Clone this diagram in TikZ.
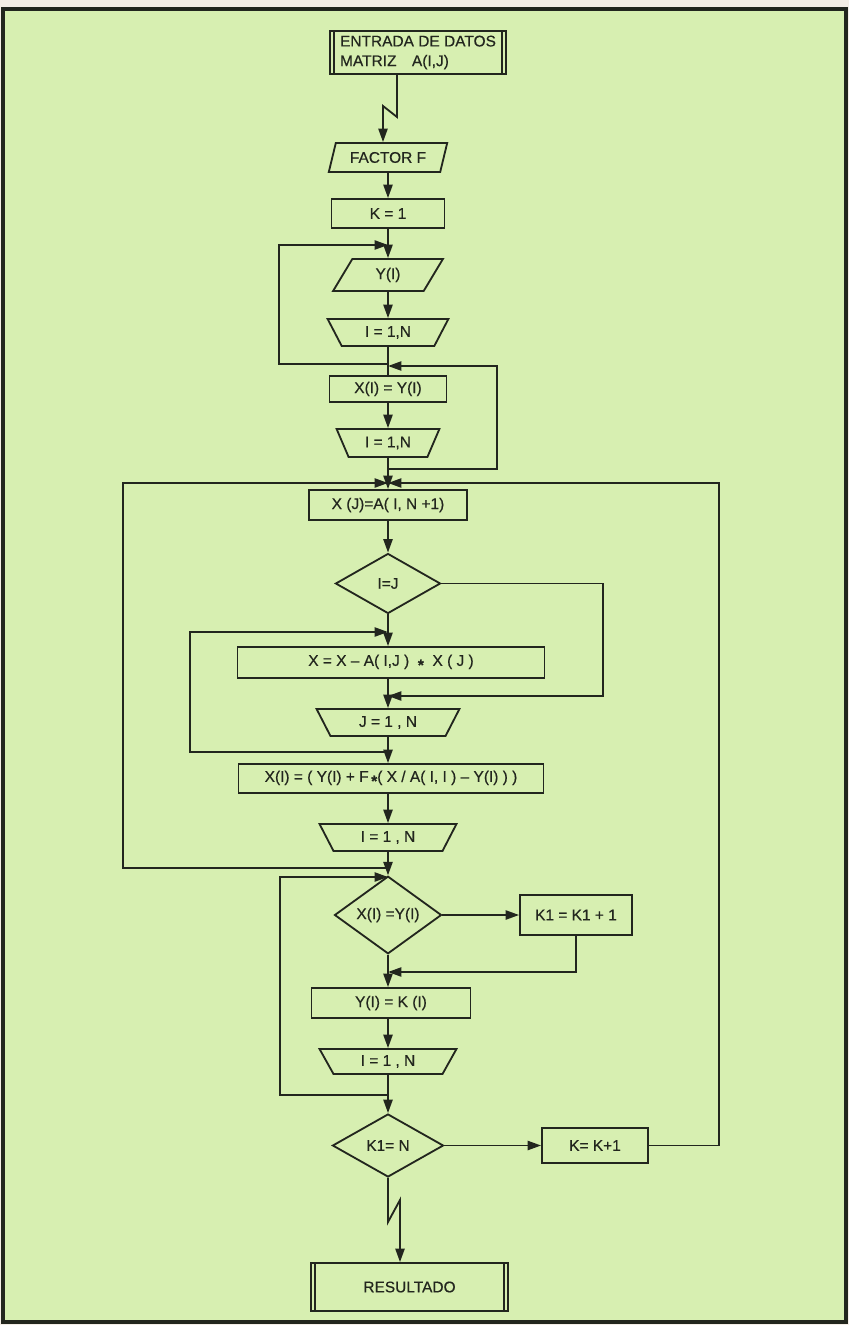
\documentclass[tikz,border=0pt]{standalone}
\usepackage{fontspec}
\setmainfont{Liberation Sans}[FakeBold=0.5]
\usetikzlibrary{shapes.geometric,arrows.meta}

\definecolor{paper}{RGB}{215,239,177}
\definecolor{margin}{RGB}{244,238,230}
\definecolor{ink}{RGB}{34,38,30}

\newcommand{\por}{\raisebox{-0.55ex}{\textbf{*}}}

\begin{document}
\begin{tikzpicture}[x=0.025cm, y=-0.025cm, line width=1.3pt, color=ink,
		font=\fontsize{11}{14}\selectfont,
		proc/.style 2 args={draw, rectangle, inner sep=0pt,
			minimum width=#1*0.025cm, minimum height=#2*0.025cm},
		predef/.style 2 args={proc={#1}{#2},
			path picture={
				\draw ([xshift=0.1cm]path picture bounding box.north west) -- ([xshift=0.1cm]path picture bounding box.south west);
				\draw ([xshift=-0.1cm]path picture bounding box.north east) -- ([xshift=-0.1cm]path picture bounding box.south east);
			}},
		inout/.style 2 args={draw, trapezium, trapezium stretches=true,
			trapezium left angle=65, trapezium right angle=115, inner sep=0pt,
			minimum width=#1*0.025cm, minimum height=#2*0.025cm},
		loopend/.style 2 args={draw, trapezium, trapezium stretches=true,
			trapezium angle=61, shape border rotate=180, inner sep=0pt,
			minimum width=#1*0.025cm, minimum height=#2*0.025cm},
		decide/.style 2 args={draw, diamond, inner sep=0pt,
			minimum width=#1*0.025cm, minimum height=#2*0.025cm},
		flow/.style={-{Triangle[length=9.5pt,width=6.5pt]}}]

	% fondo y marco
	\fill[margin] (0,0) rectangle (849,1325);
	\filldraw[fill=paper, line width=2.2pt] (3,9) rectangle (846,1322);

	% nodos
	\node[predef={176}{43}, align=left] (entrada) at (418,52.5) {ENTRADA DE DATOS\\MATRIZ\quad A(I,J)};
	\node[inout={119}{29}] (factor) at (388,157.5) {FACTOR F};
	\node[proc={113}{29}] (kuno) at (388,213.5) {K = 1};
	\node[inout={110}{32}] (yin) at (388,275) {Y(I)};
	\node[loopend={121}{27}] (lazo1) at (388,332.5) {I = 1,N};
	\node[proc={117}{26}] (xcopia) at (388,389) {X(I) = Y(I)};
	\node[loopend={103}{28}] (lazo2) at (388,443) {I = 1,N};
	\node[proc={158}{30}] (xj) at (388,505) {X (J)=A( I, N +1)};
	\node[decide={105}{60}] (cond1) at (388,583.5) {I=J};
	\node[proc={307}{31}] (resta) at (391,662.5) {X = X -- A( I,J )\ \ \por\ \ X ( J )};
	\node[loopend={143}{27}] (lazo3) at (388,722.5) {J = 1 , N};
	\node[proc={305}{29}] (nuevo) at (391,778.5) {X(I) = ( Y(I) + F\,\por( X / A( I, I ) -- Y(I) ) )};
	\node[loopend={137}{27}] (lazo4) at (388,837.5) {I = 1 , N};
	\node[decide={107}{60}] (cond2) at (388,915) {X(I) =Y(I)};
	\node[proc={112}{40}] (cuenta) at (576,915) {K1 = K1 + 1};
	\node[proc={159}{30}] (ycopia) at (391,1003) {Y(I) = K (I)};
	\node[loopend={137}{25}] (lazo5) at (388,1061.5) {I = 1 , N};
	\node[decide={111}{63}] (cond3) at (388,1145.5) {K1= N};
	\node[proc={106}{35}] (kmas) at (595,1145.5) {K= K+1};
	\node[predef={197}{48}] (result) at (409.5,1287) {RESULTADO};

	% puntos de union con el eje
	\coordinate (e1) at (388,245);
	\coordinate (s1) at (388,364);
	\coordinate (e2) at (388,366);
	\coordinate (s2) at (388,469);
	\coordinate (e3) at (388,483);
	\coordinate (e4) at (388,632);
	\coordinate (e5) at (388,696);
	\coordinate (s4) at (388,752);
	\coordinate (s3) at (388,868);
	\coordinate (e6) at (388,877);
	\coordinate (e7) at (388,972);
	\coordinate (s6) at (388,1095);
	\coordinate (z1) at (397,117);
	\coordinate (z2) at (383,106);
	\coordinate (z3) at (388,1222);
	\coordinate (z4) at (400,1200);

	% eje principal
	\draw[flow] (entrada.south -| z1) -- (z1) -- (z2) -- (z2 |- factor.north);
	\draw[flow] (factor) -- (kuno);
	\draw[flow] (kuno) -- (yin);
	\draw[flow] (yin) -- (lazo1);
	\draw (lazo1) -- (xcopia);
	\draw[flow] (xcopia) -- (lazo2);
	\draw[flow] (lazo2) -- (xj);
	\draw[flow] (xj) -- (cond1);
	\draw[flow] (cond1.south) -- (cond1.south |- resta.north);
	\draw[flow] (cond1.south |- resta.south) -- (cond1.south |- lazo3.north);
	\draw[flow] (lazo3) -- (lazo3.south |- nuevo.north);
	\draw[flow] (lazo3.south |- nuevo.south) -- (lazo4);
	\draw[flow] (lazo4) -- (cond2);
	\draw[flow] (cond2.south) -- (cond2.south |- ycopia.north);
	\draw[flow] (cond2.south |- ycopia.south) -- (lazo5);
	\draw[flow] (lazo5) -- (cond3);
	\draw[flow] (cond3.south) -- (z3) -- (z4) -- (z4 |- result.north);

	% ramas laterales
	\draw[flow] (cond2) -- (cuenta);
	\draw[flow] (cuenta.south) |- (e7);
	\draw[flow] (cond3) -- (kmas);
	\draw[flow] (cond1.east) -| (603,696) -- (e5);

	% bucles
	\draw[flow] (s1) -| (279,245) -- (e1);
	\draw[flow] (s2) -| (497,366) -- (e2);
	\draw[flow] (s3) -| (123,483) -- (e3);
	\draw[flow] (kmas.east) -| (719,483) -- (e3);
	\draw[flow] (s4) -| (190,632) -- (e4);
	\draw[flow] (s6) -| (280,877) -- (e6);
\end{tikzpicture}
\end{document}
